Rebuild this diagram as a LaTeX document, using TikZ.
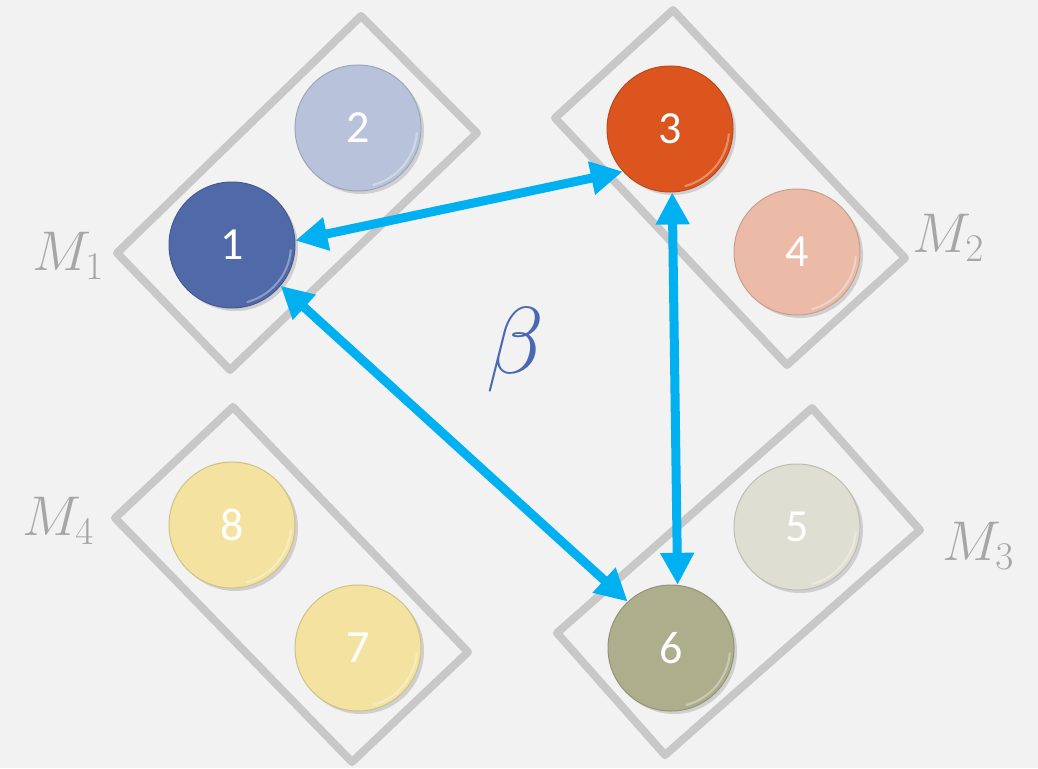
\RequirePackage{fix-cm}
\documentclass[tikz,border=0pt]{standalone}
\usepackage{fontspec}
\newfontfamily\numfont{Carlito}
\usetikzlibrary{arrows.meta,shadows}
\definecolor{bg}{HTML}{F2F2F2}
\definecolor{boxgray}{HTML}{C8C8C8}
\definecolor{labgray}{HTML}{A6A6A6}
\definecolor{linkblue}{HTML}{00B0F0}
\definecolor{betablue}{HTML}{4A68B2}
\definecolor{cA}{HTML}{5069A9}
\definecolor{cB}{HTML}{B8C3DB}
\definecolor{cC}{HTML}{DC551E}
\definecolor{cD}{HTML}{EBBBA7}
\definecolor{cE}{HTML}{DEDED3}
\definecolor{cF}{HTML}{ADAE8C}
\definecolor{cG}{HTML}{F4E3A0}
\begin{document}
\begin{tikzpicture}[x=1pt,y=-1pt,
  ball/.style={circle, minimum size=126pt, inner sep=0pt,
    font=\numfont\fontsize{46}{46}\selectfont, text=white,
    fill=#1, draw=#1!85!black, line width=1pt,
    drop shadow={opacity=0.3, shadow xshift=3pt, shadow yshift=-3pt}},
  group/.style={draw=boxgray, line width=8pt, line join=round},
  hl/.style={draw=white, opacity=0.35, line width=2pt, line cap=round},
  link/.style={draw=linkblue, line width=9pt,
    {Triangle[length=32pt,width=32pt]}-{Triangle[length=32pt,width=32pt]}},
  grouplabel/.style={text=labgray, font=\fontsize{56}{56}\selectfont}
]
\fill[bg] (0,0) rectangle (1038,768);
\useasboundingbox (0,0) rectangle (1038,768);

% group boxes
\draw[group] (361,16) -- (477,133) -- (230,370) -- (117,253) -- cycle;
\draw[group] (673,10) -- (905,258) -- (787,365) -- (555,118) -- cycle;
\draw[group] (812,408) -- (920,530) -- (665,755) -- (557,633) -- cycle;
\draw[group] (233,407) -- (468,652) -- (352,762) -- (115,518) -- cycle;

% balls
\node[ball=cA] (n1) at (232,245) {1};
\node[ball=cB] (n2) at (358,128) {2};
\node[ball=cC] (n3) at (670,129) {3};
\node[ball=cD] (n4) at (797,252) {4};
\node[ball=cE] (n5) at (797,527) {5};
\node[ball=cF] (n6) at (671,648) {6};
\node[ball=cG] (n7) at (358,648) {7};
\node[ball=cG] (n8) at (232,525) {8};

\begin{scope}[y=1pt]
  \foreach \n in {n1,n2,n3,n4,n5,n6,n7,n8}
    \draw[hl] ([shift={(-5:59pt)}]\n.center) arc[start angle=-5, end angle=-75, radius=59pt];
\end{scope}

% links
\draw[link] (n1.4) -- (n3.222);
\draw[link] (n3.-88) -- (n6.84);
\draw[link] (n1.-40) -- (n6.133);

% labels
\node[grouplabel] (m1) at (68,256) {$M_1$};
\node[grouplabel] (m2) at (948,238) {$M_2$};
\node[grouplabel] (m3) at (978,546) {$M_3$};
\node[grouplabel] (m4) at (58,521) {$M_4$};
\node[text=betablue, font=\fontsize{95}{95}\selectfont] (beta) at (515,350) {$\beta$};
\end{tikzpicture}
\end{document}
